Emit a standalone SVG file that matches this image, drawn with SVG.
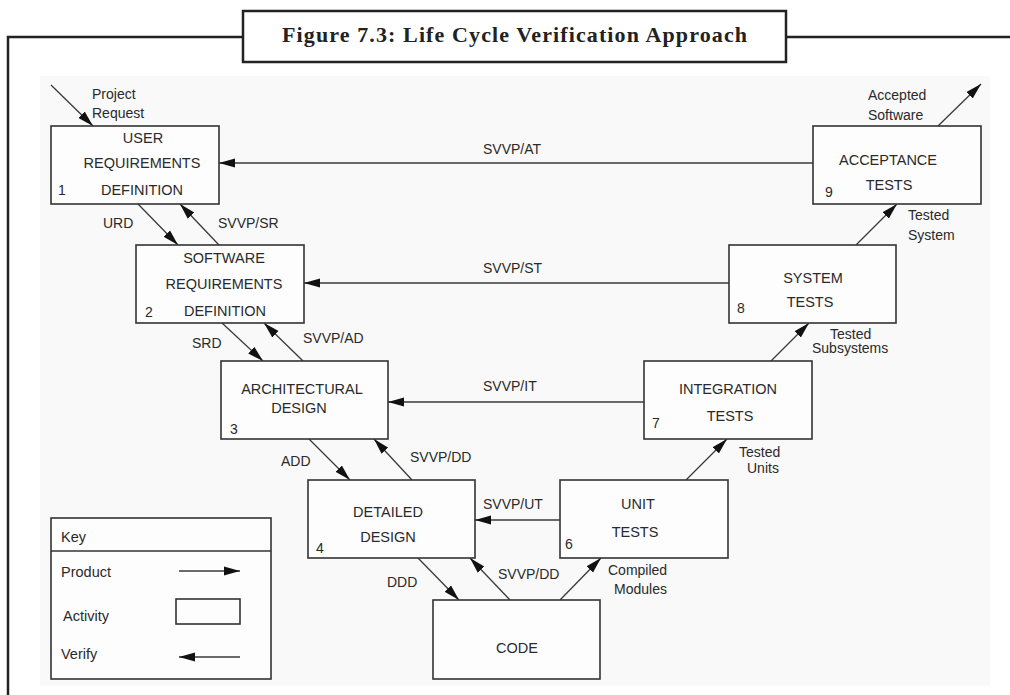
<svg xmlns="http://www.w3.org/2000/svg" width="1010" height="695" viewBox="0 0 1010 695">
  <defs>
    <marker id="head" markerUnits="userSpaceOnUse" markerWidth="17" markerHeight="11" refX="16" refY="5.5" orient="auto">
      <path d="M0,1 L16,5.5 L0,10 Z" fill="#111"/>
    </marker>
    <style>
      .frame { fill: none; stroke: #222; stroke-width: 2.5; }
      .title { font-family: "Liberation Serif", "Times New Roman", serif; font-weight: bold; font-size: 22px; fill: #222; }
      .box { fill: #fdfdfd; stroke: #333; stroke-width: 1.6; }
      .txt { font-family: "Liberation Sans", Arial, sans-serif; font-size: 14px; fill: #2a2a2a; }
      .b { font-size: 14.5px; }
      .c { text-anchor: middle; }
      .edge { fill: none; stroke: #3a3a3a; stroke-width: 1.3; marker-end: url(#head); }
      .plain { fill: none; stroke: #333; stroke-width: 1.4; }
    </style>
  </defs>

  <rect x="0" y="0" width="1010" height="695" fill="#ffffff"/>
  <!-- shaded drawing area -->
  <rect x="40" y="76" width="950" height="610" fill="#f9f9f9"/>

  <!-- page frame and caption -->
  <g id="frame">
    <path class="frame" d="M8,695 L8,37 L243,37 M786,37 L1010,37"/>
    <rect class="frame" x="243" y="11" width="543" height="51" fill="#ffffff"/>
    <text class="title" x="282" y="42" textLength="465" lengthAdjust="spacing">Figure 7.3: Life Cycle Verification Approach</text>
  </g>

  <!-- connectors: products (down/up the V) and verification arrows -->
  <g id="connectors">
    <line class="edge" x1="51" y1="85" x2="93" y2="126"/>
    <line class="edge" x1="938" y1="126" x2="981" y2="84"/>
    <line class="edge" x1="138" y1="204" x2="178" y2="245"/>
    <line class="edge" x1="219" y1="245" x2="180" y2="204"/>
    <line class="edge" x1="813" y1="163" x2="219" y2="163"/>
    <line class="edge" x1="729" y1="283" x2="304" y2="283"/>
    <line class="edge" x1="856" y1="245" x2="897" y2="204"/>
    <line class="edge" x1="222" y1="323" x2="263" y2="361"/>
    <line class="edge" x1="303" y1="361" x2="264" y2="323"/>
    <line class="edge" x1="644" y1="402" x2="388" y2="402"/>
    <line class="edge" x1="771" y1="361" x2="809" y2="323"/>
    <line class="edge" x1="309" y1="439" x2="350" y2="480"/>
    <line class="edge" x1="412" y1="480" x2="374" y2="439"/>
    <line class="edge" x1="560" y1="520" x2="475" y2="520"/>
    <line class="edge" x1="686" y1="480" x2="727" y2="439"/>
    <line class="edge" x1="418" y1="558" x2="459" y2="600"/>
    <line class="edge" x1="510" y1="600" x2="470" y2="558"/>
    <line class="edge" x1="560" y1="600" x2="601" y2="558"/>

    <text class="txt" x="92" y="99">Project</text>
    <text class="txt" x="92" y="118">Request</text>
    <text class="txt" x="868" y="100">Accepted</text>
    <text class="txt" x="868" y="120">Software</text>
    <text class="txt" x="483" y="154">SVVP/AT</text>
    <text class="txt" x="103" y="228">URD</text>
    <text class="txt" x="218" y="228">SVVP/SR</text>
    <text class="txt" x="908" y="220">Tested</text>
    <text class="txt" x="908" y="240">System</text>
    <text class="txt" x="483" y="273">SVVP/ST</text>
    <text class="txt" x="192" y="348">SRD</text>
    <text class="txt" x="303" y="343">SVVP/AD</text>
    <text class="txt" x="830" y="339">Tested</text>
    <text class="txt" x="812" y="353">Subsystems</text>
    <text class="txt" x="483" y="391">SVVP/IT</text>
    <text class="txt" x="281" y="466">ADD</text>
    <text class="txt" x="410" y="462">SVVP/DD</text>
    <text class="txt" x="739" y="457">Tested</text>
    <text class="txt" x="747" y="473">Units</text>
    <text class="txt" x="483" y="509">SVVP/UT</text>
    <text class="txt" x="387" y="587">DDD</text>
    <text class="txt" x="498" y="579">SVVP/DD</text>
    <text class="txt" x="608" y="575">Compiled</text>
    <text class="txt" x="614" y="594">Modules</text>
  </g>

  <g id="n1">
    <rect class="box" x="51" y="126" width="168" height="78"/>
    <text class="txt b c" x="143" y="143">USER</text>
    <text class="txt b c" x="142" y="168">REQUIREMENTS</text>
    <text class="txt b c" x="142" y="195">DEFINITION</text>
    <text class="txt" x="58" y="195">1</text>
  </g>

  <g id="n2">
    <rect class="box" x="136" y="245" width="168" height="78"/>
    <text class="txt b c" x="224" y="263">SOFTWARE</text>
    <text class="txt b c" x="224" y="289">REQUIREMENTS</text>
    <text class="txt b c" x="225" y="316">DEFINITION</text>
    <text class="txt" x="145" y="317">2</text>
  </g>

  <g id="n3">
    <rect class="box" x="221" y="361" width="167" height="78"/>
    <text class="txt b c" x="302" y="394">ARCHITECTURAL</text>
    <text class="txt b c" x="299" y="413">DESIGN</text>
    <text class="txt" x="230" y="434">3</text>
  </g>

  <g id="n4">
    <rect class="box" x="308" y="480" width="167" height="78"/>
    <text class="txt b c" x="388" y="517">DETAILED</text>
    <text class="txt b c" x="388" y="542">DESIGN</text>
    <text class="txt" x="316" y="553">4</text>
  </g>

  <g id="n5">
    <rect class="box" x="433" y="600" width="167" height="79"/>
    <text class="txt b c" x="517" y="653">CODE</text>
  </g>

  <g id="n6">
    <rect class="box" x="560" y="480" width="168" height="78"/>
    <text class="txt b c" x="638" y="509">UNIT</text>
    <text class="txt b c" x="635" y="537">TESTS</text>
    <text class="txt" x="565" y="549">6</text>
  </g>

  <g id="n7">
    <rect class="box" x="644" y="361" width="168" height="78"/>
    <text class="txt b c" x="728" y="394">INTEGRATION</text>
    <text class="txt b c" x="730" y="421">TESTS</text>
    <text class="txt" x="652" y="428">7</text>
  </g>

  <g id="n8">
    <rect class="box" x="729" y="245" width="167" height="78"/>
    <text class="txt b c" x="813" y="283">SYSTEM</text>
    <text class="txt b c" x="810" y="307">TESTS</text>
    <text class="txt" x="737" y="313">8</text>
  </g>

  <g id="n9">
    <rect class="box" x="813" y="126" width="168" height="78"/>
    <text class="txt b c" x="888" y="165">ACCEPTANCE</text>
    <text class="txt b c" x="889" y="190">TESTS</text>
    <text class="txt" x="825" y="197">9</text>
  </g>

  <!-- legend -->
  <g id="key">
    <rect class="box" x="51" y="518" width="220" height="161"/>
    <line class="plain" x1="51" y1="551" x2="271" y2="551"/>
    <text class="txt b" x="61" y="542">Key</text>
    <text class="txt b" x="61" y="577">Product</text>
    <line class="edge" x1="179" y1="571" x2="240" y2="571"/>
    <text class="txt b" x="63" y="621">Activity</text>
    <rect class="box" x="176" y="599" width="64" height="25"/>
    <text class="txt b" x="61" y="659">Verify</text>
    <line class="edge" x1="240" y1="657" x2="179" y2="657"/>
  </g>
</svg>
